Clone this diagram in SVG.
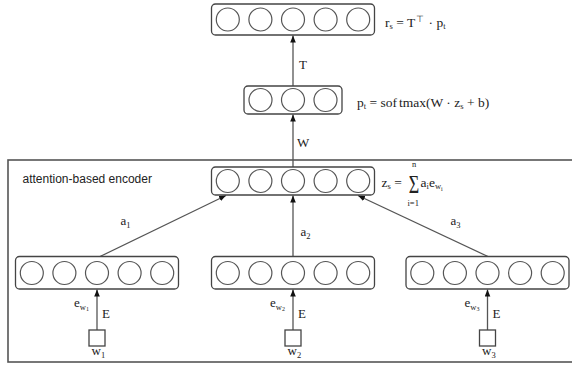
<svg xmlns="http://www.w3.org/2000/svg" width="572" height="366" viewBox="0 0 572 366">
<defs>
<marker id="ah" markerUnits="userSpaceOnUse" markerWidth="8" markerHeight="6" refX="7" refY="3" orient="auto">
<path d="M0,0.2 L7,3 L0,5.8 z" fill="#111"/>
</marker>
<style>
.box{fill:#fff;stroke:#444;stroke-width:1.3}
.c{fill:#fff;stroke:#555;stroke-width:1.2}
.sq{fill:#fff;stroke:#444;stroke-width:1.3}
.edge{stroke:#555;stroke-width:1.3;fill:none;marker-end:url(#ah)}
.m{font-family:"Liberation Serif","Times New Roman",serif;font-size:13px;fill:#222}
.f{font-size:13.5px}
.s{font-size:8.5px}
.ss{font-size:6px}
.big{font-size:20px}
.lab{font-family:"Liberation Sans",Arial,sans-serif;font-size:12px;fill:#222}
</style>
</defs>
<rect width="572" height="366" fill="#fff"/>

<g id="encoder">
<rect x="8" y="160" width="580" height="202" fill="none" stroke="#555" stroke-width="1.6"/>
<text class="lab" x="22.5" y="183">attention-based encoder</text>
</g>

<g id="edges">
<line class="edge" x1="293" y1="86" x2="293" y2="35.5"/>
<line class="edge" x1="293" y1="167" x2="293" y2="114.5"/>
<line class="edge" x1="100" y1="256.5" x2="226" y2="195.5"/>
<line class="edge" x1="293" y1="256.5" x2="293" y2="195.5"/>
<line class="edge" x1="488" y1="256.5" x2="358" y2="195.5"/>
<line class="edge" x1="97" y1="330" x2="97" y2="289.5"/>
<line class="edge" x1="293" y1="330" x2="293" y2="289.5"/>
<line class="edge" x1="487.5" y1="330" x2="487.5" y2="289.5"/>
<text class="m" x="299" y="68.5">T</text>
<text class="m" x="297" y="147">W</text>
<text class="m" x="120.5" y="225">a<tspan class="s" dy="2.5">1</tspan></text>
<text class="m" x="300.5" y="236">a<tspan class="s" dy="2.5">2</tspan></text>
<text class="m" x="450.5" y="225">a<tspan class="s" dy="2.5">3</tspan></text>
<text class="m" x="74" y="307">e<tspan class="s" dy="2.5">w<tspan class="ss" dy="1.5">1</tspan></tspan></text>
<text class="m" x="102" y="318">E</text>
<text class="m" x="270" y="307">e<tspan class="s" dy="2.5">w<tspan class="ss" dy="1.5">2</tspan></tspan></text>
<text class="m" x="298" y="318">E</text>
<text class="m" x="464.5" y="307">e<tspan class="s" dy="2.5">w<tspan class="ss" dy="1.5">3</tspan></tspan></text>
<text class="m" x="492.5" y="318">E</text>
</g>

<g id="r_s">
<rect class="box" x="211.5" y="4" width="163" height="31" rx="4"/>
<circle class="c" cx="227.8" cy="19.5" r="11.5"/>
<circle class="c" cx="260.4" cy="19.5" r="11.5"/>
<circle class="c" cx="293" cy="19.5" r="11.5"/>
<circle class="c" cx="325.6" cy="19.5" r="11.5"/>
<circle class="c" cx="358.2" cy="19.5" r="11.5"/>
<text class="m f" x="385" y="26.5">r<tspan class="s" dy="2.5">s</tspan><tspan dy="-2.5"> = T</tspan><tspan class="s" dy="-5" dx="1">⊤</tspan><tspan dy="5" dx="1"> · p</tspan><tspan class="s" dy="2.5">t</tspan></text>
</g>

<g id="p_t">
<rect class="box" x="244" y="86" width="98" height="28" rx="4"/>
<circle class="c" cx="260.5" cy="100" r="11.5"/>
<circle class="c" cx="293" cy="100" r="11.5"/>
<circle class="c" cx="325.5" cy="100" r="11.5"/>
<text class="m f" x="357" y="106.5">p<tspan class="s" dy="2.5">t</tspan><tspan dy="-2.5"> = sof</tspan><tspan dx="2">tmax(W · z</tspan><tspan class="s" dy="2.5">s</tspan><tspan dy="-2.5"> + b)</tspan></text>
</g>

<g id="z_s">
<rect class="box" x="211.5" y="167" width="163" height="28" rx="4"/>
<circle class="c" cx="227.8" cy="181" r="11.5"/>
<circle class="c" cx="260.4" cy="181" r="11.5"/>
<circle class="c" cx="293" cy="181" r="11.5"/>
<circle class="c" cx="325.6" cy="181" r="11.5"/>
<circle class="c" cx="358.2" cy="181" r="11.5"/>
<text class="m f" x="381.5" y="186.5">z<tspan class="s" dy="2.5">s</tspan><tspan dy="-2.5"> =</tspan></text>
<text class="m big" transform="translate(408.8,193) scale(0.9,1.3)">Σ</text>
<text class="m s" x="412" y="167">n</text>
<text class="m s" x="407.5" y="205.5">i=1</text>
<text class="m f" x="420.5" y="186.5">a<tspan class="s" dy="2.5">i</tspan><tspan dy="-2.5">e</tspan><tspan class="s" dy="2.5">w<tspan class="ss" dy="1.5">i</tspan></tspan></text>
</g>

<g id="e_w1">
<rect class="box" x="15.5" y="256.5" width="163" height="32.5" rx="4"/>
<circle class="c" cx="31.8" cy="273" r="11.5"/>
<circle class="c" cx="64.4" cy="273" r="11.5"/>
<circle class="c" cx="97" cy="273" r="11.5"/>
<circle class="c" cx="129.6" cy="273" r="11.5"/>
<circle class="c" cx="162.2" cy="273" r="11.5"/>
</g>
<g id="e_w2">
<rect class="box" x="211.5" y="256.5" width="163" height="32.5" rx="4"/>
<circle class="c" cx="227.8" cy="273" r="11.5"/>
<circle class="c" cx="260.4" cy="273" r="11.5"/>
<circle class="c" cx="293" cy="273" r="11.5"/>
<circle class="c" cx="325.6" cy="273" r="11.5"/>
<circle class="c" cx="358.2" cy="273" r="11.5"/>
</g>
<g id="e_w3">
<rect class="box" x="406" y="256.5" width="163" height="32.5" rx="4"/>
<circle class="c" cx="422.3" cy="273" r="11.5"/>
<circle class="c" cx="454.9" cy="273" r="11.5"/>
<circle class="c" cx="487.5" cy="273" r="11.5"/>
<circle class="c" cx="520.1" cy="273" r="11.5"/>
<circle class="c" cx="552.7" cy="273" r="11.5"/>
</g>

<g id="w1">
<rect class="sq" x="89" y="330" width="16" height="16"/>
<text class="m" x="91.5" y="355">w<tspan class="s" dy="2.5">1</tspan></text>
</g>
<g id="w2">
<rect class="sq" x="285" y="330" width="16" height="16"/>
<text class="m" x="287.5" y="355">w<tspan class="s" dy="2.5">2</tspan></text>
</g>
<g id="w3">
<rect class="sq" x="479.5" y="330" width="16" height="16"/>
<text class="m" x="482" y="355">w<tspan class="s" dy="2.5">3</tspan></text>
</g>
</svg>
